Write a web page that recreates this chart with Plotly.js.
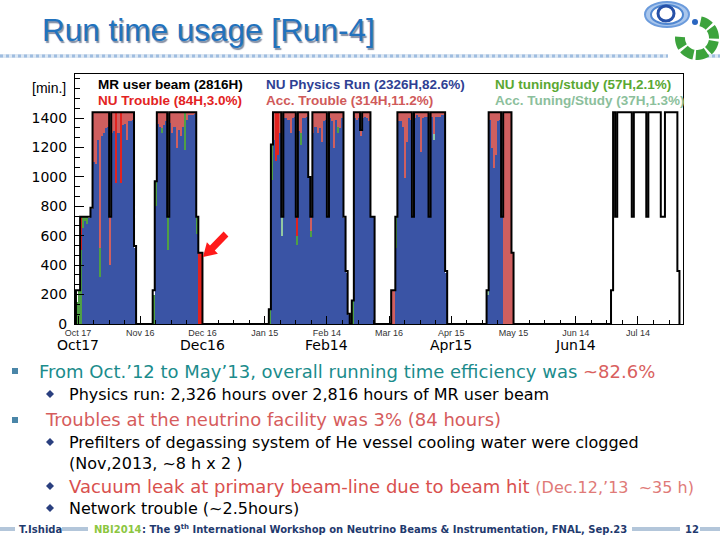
<!DOCTYPE html>
<html><head><meta charset="utf-8">
<script src="https://cdn.plot.ly/plotly-3.0.1.min.js"></script>
<style>html,body{margin:0;padding:0;background:#fff}#chart{width:720px;height:540px}</style>
</head><body><div id="chart"></div>
<script>
// ---------- DATA (minutes per day) ----------
const runStart = ['2012-10-16','2012-11-22','2013-01-17','2013-02-26','2013-03-17','2013-05-02','2013-07-01'];

const mrUserBeam = [
 [230,230,730,730,730,730,730,790,1440,1440,1440,1440,1440,1440,1440,1440,730,1440,1440,1440,1440,1440,1440,1440,1440,1440,1440,1440,530],
 [230,970,1440,1440,1440,1440,1440,730,1440,1440,1440,1440,1440,1440,1440,1440,1440,1440,1440,1440,1440,730,484,484],
 [100,1220,1440,1440,1440,1440,730,1440,1440,1440,1440,1440,1440,730,1440,1440,1440,1440,1440,1000,730,1440,1440,1440,1440,1440,1440,1440,730,1440,1440,1440,1440,1440,1440,1440,730,360,70],
 [160,1440,1440,1440,1320,1440,1440,1440,1440,730,730],
 [230,230,730,1440,1440,1440,1440,1440,1440,1440,730,1440,1440,1440,1440,1440,1440,1440,730,1440,1440,1440,1440,1440,1440,1440,360],
 [230,1440,1440,1440,1440,1440,1440,730,1440,1440,1440,1440,484],
 [230,1440,730,1440,1440,1440,1440,1440,1440,1440,730,1440,1440,1440,1440,1440,1440,730,1440,1440,1440,1440,1440,1440,730,730,1440,1440,1440,1440,1440,1440,360]
];
const nuPhysics = [
 [0,0,0,650,700,680,720,780,1100,1090,1250,320,1280,1300,1330,1340,400,1300,1310,960,1300,960,1350,1360,1250,1380,1380,1390,520],
 [0,800,1360,1340,1300,1350,1380,500,1370,1300,1340,1200,1320,1280,1340,1180,1390,1420,1420,1420,1430,610,0,0],
 [0,980,1250,1110,1150,1300,600,1400,1400,1390,1300,1400,1410,540,1310,1220,1400,1400,1410,990,590,1300,1340,1300,1330,1240,1380,1390,730,1400,1380,1200,1390,1300,1330,1400,720,350,60],
 [0,1400,1390,1400,1280,1400,1410,1400,1380,730,730],
 [0,0,520,1380,1380,1340,990,1240,1400,1390,730,1400,1420,1410,1170,1400,1410,1410,730,1410,1250,1410,1410,1410,1420,1420,350],
 [200,1390,1200,1060,1150,1380,1390,730,0,0,0,0,0],
 []
];
const nuTuning = [
 [150,230,500,80,30,50,0,0,0,0,0,200,0,0,0,0,0,0,0,0,0,0,0,0,0,0,0,0,0],
 [200,170,0,0,30,0,0,230,0,0,0,0,0,0,0,260,0,0,0,0,0,120,0,0],
 [100,240,0,0,0,0,0,0,0,0,0,0,0,60,0,80,0,0,0,0,40,0,0,0,0,0,0,0,0,0,0,0,0,40,0,0,0,0,0],
 [160,0,0,0,0,0,0,0,0,0,0],
 [0,0,210,0,0,0,0,0,0,0,0,0,0,0,0,0,0,0,0,0,0,0,0,0,0,0,0],
 [0,0,0,0,0,0,0,0,0,0,0,0,0],
 []
];
const nuTrouble = [
 [0,0,230,0,0,0,0,0,0,0,0,0,0,0,0,0,0,0,0,480,0,480,0,0,0,0,0,0,0],
 [0,0,0,0,0,0,0,0,0,0,0,0,0,0,0,0,0,0,0,0,0,0,484,484],
 [0,0,0,330,290,0,0,0,0,0,0,0,0,130,0,0,0,0,0,0,0,0,0,0,0,0,0,0,0,0,0,0,0,0,0,0,0,0,0],
 [0,0,0,0,0,0,0,0,0,0,0],
 [0,0,0,0,0,0,0,0,0,0,0,0,0,0,0,0,0,0,0,0,0,0,0,0,0,0,0],
 [0,0,0,0,0,0,0,0,0,0,0,0,0],
 []
];
const accTuning = [
 [0,0,0,0,0,0,0,0,0,0,0,0,0,0,0,0,0,0,0,0,0,0,0,0,0,0,0,0,0],
 [0,0,0,0,0,0,0,0,0,0,0,0,0,0,0,0,0,0,0,0,0,0,0,0],
 [0,0,0,0,0,0,130,0,0,0,0,0,0,0,0,0,0,0,0,0,0,0,0,0,0,0,0,0,0,0,0,0,0,0,0,0,0,0,0],
 [0,0,0,0,0,0,0,0,0,0,0],
 [0,0,0,0,0,0,0,0,0,0,0,0,0,0,0,0,0,0,0,0,40,0,0,0,0,0,0],
 [30,0,0,0,0,0,0,0,0,0,0,0,0],
 []
];
const accTrouble = [
 [0,0,0,0,0,0,0,0,340,350,190,920,160,140,110,100,330,140,130,0,140,0,90,80,190,60,60,50,0],
 [0,0,80,100,110,90,60,0,70,140,100,240,120,160,100,0,50,20,20,20,10,0,0,0],
 [0,0,190,0,0,140,0,40,40,50,140,40,30,0,130,140,40,40,30,0,100,140,100,140,110,200,60,50,0,40,60,240,50,100,110,40,0,0,0],
 [0,40,50,40,40,40,30,40,60,0,0],
 [230,230,0,60,60,100,450,200,40,50,0,40,20,30,270,40,30,30,0,30,150,30,30,30,20,20,0],
 [0,50,240,380,290,60,50,0,1440,1440,1440,1440,484],
 []
];
const legendLabels = ['MR user beam (2816H)','NU Physics Run (2326H,82.6%)','NU tuning/study (57H,2.1%)',
                      'NU Trouble (84H,3.0%)','Acc. Trouble (314H,11.2%)','Acc. Tuning/Study (37H,1.3%)'];
const yTickVals = [0,200,400,600,800,1000,1200,1400];
const yTickText = ['0','200','400','600','800','1000','1200','1400'];
const bigTickDates = ['2012-10-17','2012-12-16','2013-02-14','2013-04-15','2013-06-14'];
const bigTickText = ['Oct17','Dec16','Feb14','Apr15','Jun14'];

// ---------- helpers ----------
const DAY = 86400000;
function dayStr(start, i){ return new Date(Date.parse(start+'T00:00:00Z') + i*DAY).toISOString().slice(0,10); }
const L=75, R=683, T=74, B=324;
const px = x => (x-L)/(R-L);
const py = y => (B-y)/(B-T);

const colors = {phys:'#3a54a5', tun:'#4f9f45', nutr:'#e2231f', acctu:'#92c8a2', acctr:'#cf5f5f'};

function barTrace(name, series, color){
  const x=[], y=[];
  series.forEach((vals,r)=>vals.forEach((v,i)=>{ x.push(dayStr(runStart[r],i)); y.push(v); }));
  return {type:'bar', name, x, y, offset:0, width:x.map(()=>DAY),
          marker:{color, line:{width:0}}, hoverinfo:'skip'};
}
const lx=[], ly=[];
mrUserBeam.forEach((vals,r)=>{
  lx.push(dayStr(runStart[r],0)); ly.push(0);
  vals.forEach((v,i)=>{ lx.push(dayStr(runStart[r],i)); ly.push(v); });
  lx.push(dayStr(runStart[r],vals.length)); ly.push(0);
});

const traces = [
  barTrace('NU Physics Run', nuPhysics, colors.phys),
  barTrace('NU tuning/study', nuTuning, colors.tun),
  barTrace('NU Trouble', nuTrouble, colors.nutr),
  barTrace('Acc. Tuning/Study', accTuning, colors.acctu),
  barTrace('Acc. Trouble', accTrouble, colors.acctr),
  {type:'scatter', mode:'lines', name:'MR user beam', x:lx, y:ly,
   line:{shape:'hv', color:'#000', width:2}, hoverinfo:'skip'}
];

// ---------- text ----------
const ann = [];
function txt(x,y,text,size,color,family,anchor,extra){
  ann.push({xref:'paper',yref:'paper',x:px(x),y:py(y),text,showarrow:false,
    xanchor:anchor||'left',yanchor:'middle',font:Object.assign({family:family||'DejaVu Sans',size,color},extra||{})});
}
// title with soft shadow
txt(40,30,'Run time usage [Run-4]',31.5,'#2272bd','Liberation Sans','left',{shadow:'1.5px 1.5px 1px rgba(30,50,90,0.55)'});
// legend inside frame
const legCols = ['#000','#2e3f93','#5aa832','#e32222','#d05a5a','#8cbf9c'];
const legX = [96,264,493,96,264,493], legY = [84,84,84,100,100,100];
legendLabels.forEach((t,i)=>txt(legX[i],legY[i],'<b>'+t+'</b>',13.5,legCols[i],'Liberation Sans'));
txt(68,88,'[min.]',14,'#000','Liberation Sans','right');
// big x labels
bigTickDates.forEach((d,i)=>ann.push({xref:'x',yref:'paper',x:d,y:py(345),text:bigTickText[i],
  showarrow:false,xanchor:'center',yanchor:'middle',font:{family:'DejaVu Sans',size:14,color:'#000'}}));
// bullets
txt(37,371,"From Oct.’12 to May’13, overall running time efficiency was <span style=\"color:#d9605e\">~82.6%</span>",18,'#1b8c8c');
txt(67,394,'Physics run: 2,326 hours over 2,816 hours of MR user beam',16,'#000');
txt(43,419,'Troubles at the neutrino facility was 3% (84 hours)',18,'#d65c5c');
txt(67,442,'Prefilters of degassing system of He vessel cooling water were clogged',16,'#000');
txt(67,463,'(Nov,2013, ~8 h x 2 )',16,'#000');
txt(67,486,'Vacuum leak at primary beam-line due to beam hit <span style="font-size:16px;color:#e07a78">(Dec.12,’13  ~35 h)</span>',18,'#d9504e');
txt(67,508,'Network trouble (~2.5hours)',16,'#000');
// footer
txt(17,529,'<b>T.Ishida</b>',10,'#1f3a6e');
txt(92,529,'<b>NBI2014</b>',10,'#8cc63f');
txt(140,529,'<b>: The 9<sup>th</sup> International Workshop on Neutrino Beams &amp; Instrumentation, FNAL, Sep.23</b>',10,'#1f3a6e');
txt(683,529,'<b>12</b>',10,'#1f3a6e');

// ---------- shapes ----------
const shapes = [];
function pathOf(pts){ return 'M'+pts.map(p=>px(p[0])+','+py(p[1])).join('L')+'Z'; }
function poly(pts,color){ shapes.push({type:'path',xref:'paper',yref:'paper',path:pathOf(pts),fillcolor:color,line:{width:0}}); }
function rect(x0,y0,x1,y1,color){ shapes.push({type:'rect',xref:'paper',yref:'paper',x0:px(x0),x1:px(x1),y0:py(y1),y1:py(y0),fillcolor:color,line:{width:0}}); }
function ell(x0,y0,x1,y1,fill,lc,lw){ shapes.push({type:'circle',xref:'paper',yref:'paper',x0:px(x0),x1:px(x1),y0:py(y1),y1:py(y0),fillcolor:fill,line:{color:lc,width:lw}}); }
// dotted band under title (interrupted by logo)
[[0,668],[700,720]].forEach(s=>{
  shapes.push({type:'line',xref:'paper',yref:'paper',x0:px(s[0]),x1:px(s[1]),y0:py(56),y1:py(56),line:{color:'#dce7f3',width:4}});
  shapes.push({type:'line',xref:'paper',yref:'paper',x0:px(s[0]),x1:px(s[1]),y0:py(56),y1:py(56),line:{color:'#9fbde0',width:3,dash:'dot'}});
});
// red arrow
poly([[203,257],[217.9,253.8],[214.8,250.5],[228.4,236.5],[223.6,231.5],[210,245.5],[206.9,242.2]],'#ff1a1a');
// square bullets
rect(12,368,18,374,'#4a86a8'); rect(12,417,18,423,'#4a86a8');
// diamonds
[394,442,486,508].forEach(y=>poly([[50,y-4],[54,y],[50,y+4],[46,y]],'#2a3f7f'));
// footer bars
[[0,15],[62,88],[632,680],[700,720]].forEach(b=>rect(b[0],527,b[1],531,'#b3c6da'));
// logo
ell(645,2,689,27,'#a9c6ec','#6b9bdc',2);
ell(651,5,683,24,'#ffffff','#4f86d0',2);
ell(658,6,674,21,'#ffffff','#2651a8',3);
ell(692,19,698,25,'#2a66c0','#2a66c0',0);
function arcSeg(cx,cy,r1,r2,a0,a1){
  const pts=[]; for(let k=0;k<=6;k++){const a=(a0+(a1-a0)*k/6)*Math.PI/180; pts.push([cx+r2*Math.cos(a),cy+r2*Math.sin(a)]);}
  for(let k=6;k>=0;k--){const a=(a0+(a1-a0)*k/6)*Math.PI/180; pts.push([cx+r1*Math.cos(a),cy+r1*Math.sin(a)]);}
  return pts;
}
[[-78,-44],[-36,2],[10,48],[56,94],[102,140],[148,184]].forEach(s=>poly(arcSeg(697,38,12,22,s[0],s[1]),'#3ca33c'));

const layout = {
  width:720, height:540, autosize:false,
  margin:{l:L, r:720-R, t:T, b:540-B, pad:0},
  paper_bgcolor:'#fff', plot_bgcolor:'#fff',
  barmode:'stack', bargap:0, showlegend:false,
  xaxis:{type:'date', range:['2012-10-15 13:00','2013-08-04 17:00'],
    tick0:'2012-10-17', dtick:30*DAY, tickformat:'%b %d',
    ticks:'inside', ticklen:8, tickcolor:'#000', tickwidth:1,
    tickfont:{family:'Liberation Sans', size:9, color:'#333'},
    showgrid:false, zeroline:false, showline:true, linecolor:'#000', linewidth:1, mirror:true,
    minor:{dtick:7.5*DAY, tick0:'2012-10-17', ticks:'inside', ticklen:4, tickcolor:'#000', showgrid:false}},
  yaxis:{range:[0,1700], tickmode:'array', tickvals:yTickVals, ticktext:yTickText,
    ticks:'inside', ticklen:9, tickcolor:'#000', tickwidth:1, ticklabelstandoff:4,
    tickfont:{family:'DejaVu Sans', size:14, color:'#000'},
    showgrid:false, zeroline:false, showline:true, linecolor:'#000', linewidth:1, mirror:true,
    minor:{dtick:200/3, tick0:0, ticks:'inside', ticklen:5, tickcolor:'#000', showgrid:false}},
  annotations: ann, shapes: shapes
};
Plotly.newPlot('chart', traces, layout, {staticPlot:true, displayModeBar:false});
</script></body></html>
